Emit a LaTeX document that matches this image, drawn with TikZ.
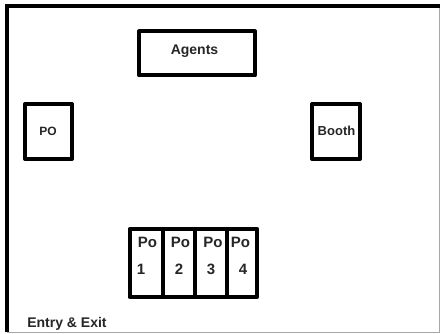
\documentclass[tikz,border=0pt]{standalone}
\usepackage{fontspec}
\setmainfont{Liberation Sans}
\begin{document}
\begin{tikzpicture}[x=1pt,y=-1pt,
  box/.style={draw=black,line width=4pt,fill=white,inner sep=0pt,line join=round},
  lbl/.style={inner sep=0pt,text=black!85,font=\bfseries\fontsize{14}{16}\selectfont,anchor=center},
  cell/.style={lbl,font=\bfseries\fontsize{15}{17}\selectfont},
  small/.style={lbl,font=\bfseries\fontsize{12}{15}\selectfont},
  edge/.style={draw=black!35,line width=1pt}]
\useasboundingbox (0,0) rectangle (440,334);
\fill[white] (0,0) rectangle (440,334);
\coordinate (tl) at (7,6);
\coordinate (tr) at (440,6);
\coordinate (bl) at (7,332.5);
\coordinate (br) at (439.5,332.5);
\draw[edge] (tr) ++(-0.5,0) -- (br) -- (bl);
\draw[black,line width=4pt] (bl) -- (tl) -- (tr);
\node[box,minimum width=116pt,minimum height=44pt] (agents) at (197,53.5) {};
\node[lbl] (agentst) at (194.5,51) {Agents};
\node[box,minimum width=47pt,minimum height=55pt] (po) at (48.5,131.5) {};
\node[small] (pot) at (48,131) {PO};
\node[box,minimum width=48pt,minimum height=55pt] (booth) at (336,131.5) {};
\node[lbl,font=\bfseries\fontsize{13}{15}\selectfont] (bootht) at (336.5,131) {Booth};
\node[box,minimum width=33pt,minimum height=68pt] (c1) at (146,263) {};
\node[box,minimum width=33pt,minimum height=68pt] (c2) at (179,263) {};
\node[box,minimum width=32pt,minimum height=68pt] (c3) at (211.3,263) {};
\node[box,minimum width=30pt,minimum height=68pt] (c4) at (242.3,263) {};
\node[cell] (p1) at (147.5,242) {Po};
\node[cell] (p2) at (180.5,242) {Po};
\node[cell] (p3) at (213,242) {Po};
\node[cell] (p4) at (240.5,242) {Po};
\node[cell] (n1) at (141,269.5) {1};
\node[cell] (n2) at (179,269.5) {2};
\node[cell] (n3) at (211,269.5) {3};
\node[cell] (n4) at (243,269.5) {4};
\node[lbl] (entry) at (67,323.5) {Entry \& Exit};
\end{tikzpicture}
\end{document}
